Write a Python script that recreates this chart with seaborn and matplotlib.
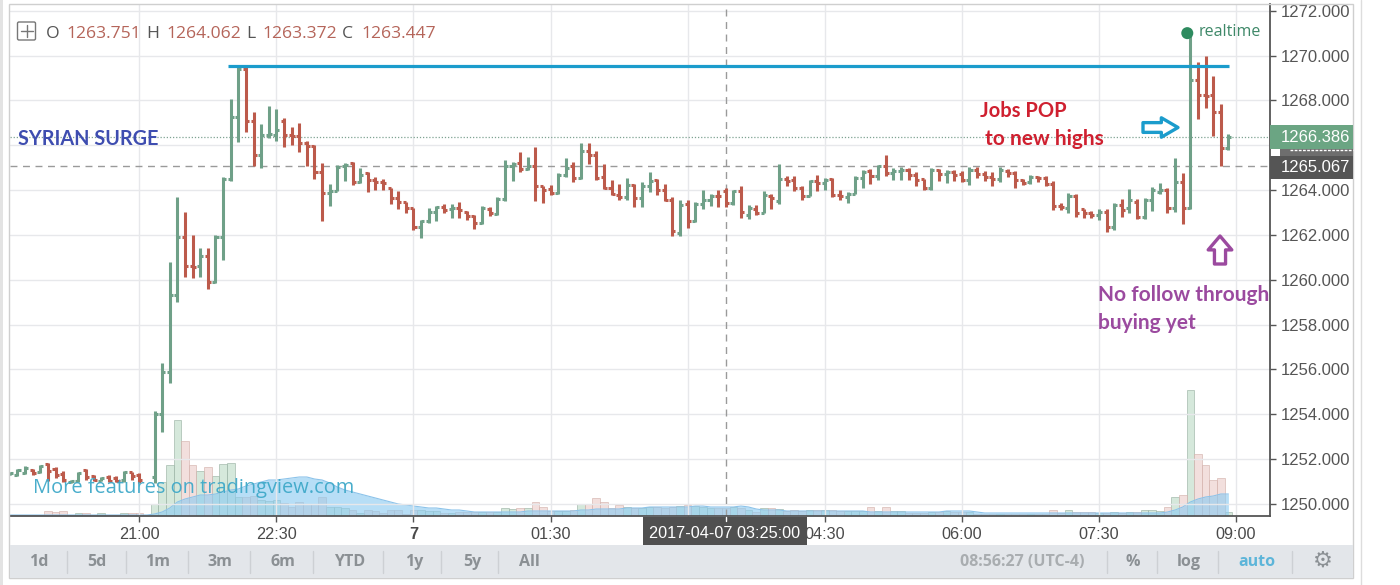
import numpy as np
import pandas as pd
import matplotlib
matplotlib.use("Agg")
import matplotlib.pyplot as plt
from matplotlib.patches import Rectangle, FancyBboxPatch
import seaborn as sns

nan = np.nan

# 5 minute bars, minutes counted from 21:00
minutes = [5 * k for k in range(-17, 144)]

open_px = [
    1251.32, 1251.30, 1251.38, 1251.53, 1251.42, 1251.78, 1251.55, 1251.35, 1250.97, 1251.02,
    1251.50, 1251.25, 1251.03, 1251.20, 1251.15, 1251.05, 1251.40, 1251.30, nan, 1251.2,
    1254.0, 1255.9, 1259.3, 1261.9, 1260.6, 1260.6, 1261.05, 1259.9, 1261.9, 1264.5,
    1267.27, 1269.4, 1267.1, 1265.56, 1266.45, 1266.45, 1267.1, 1266.45, 1266.4, 1266.08,
    1265.97, 1264.8, 1263.88, 1263.97, 1265.07, 1265.2, 1264.37, 1264.74, 1264.44, 1264.37,
    1264.07, 1263.63, 1263.45, 1263.18, 1262.33, 1262.6, 1263.0, 1263.25, 1263.14, 1263.18,
    1263.0, 1262.83, 1262.53, 1263.15, 1262.95, 1263.61, 1265.05, 1265.2, 1264.93, 1265.08,
    1264.16, 1264.04, 1263.87, 1264.68, 1265.05, 1264.53, 1265.72, 1265.57, 1264.58, 1264.09,
    1263.8, 1263.67, 1264.24, 1263.64, 1264.16, 1264.43, 1264.01, 1263.57, 1262.09, 1263.38,
    1262.6, 1263.38, 1263.57, 1263.75, 1263.94, 1263.42, 1263.97, 1262.9, 1263.15, 1262.98,
    1263.75, 1263.5, 1264.49, 1264.46, 1264.09, 1263.75, 1264.42, 1264.31, 1264.49, 1263.79,
    1263.69, 1263.84, 1264.53, 1264.83, 1264.61, 1265.05, 1264.76, 1264.83, 1264.9, 1264.68,
    1264.49, 1264.09, 1264.9, 1264.71, 1264.79, 1264.71, 1264.46, 1264.88, 1264.71, 1264.6,
    1264.49, 1264.86, 1264.76, 1264.46, 1264.34, 1264.58, 1264.53, 1264.28, 1263.27, 1263.2,
    1263.72, 1263.14, 1262.96, 1262.88, 1263.03, 1262.36, 1263.33, 1263.2, 1263.48, 1262.81,
    1263.55, 1263.9, 1264.0, 1263.22, 1264.34, 1263.22, 1268.9, 1268.23, 1268.23, 1267.49,
    1265.88]

high_px = [
    1251.40, 1251.56, 1251.67, 1251.57, 1251.75, 1251.82, 1251.63, 1251.48, 1251.05, 1251.42,
    1251.56, 1251.30, 1251.20, 1251.27, 1251.23, 1251.48, 1251.44, 1251.38, nan, 1254.16,
    1256.3, 1260.8, 1263.7, 1263.0, 1262.0, 1261.4, 1261.4, 1262.0, 1264.6, 1268.07,
    1269.5, 1269.5, 1267.46, 1266.94, 1267.74, 1267.6, 1267.2, 1266.8, 1267.0, 1266.18,
    1266.0, 1265.2, 1264.25, 1265.1, 1265.2, 1265.26, 1265.0, 1264.8, 1264.56, 1264.5,
    1264.1, 1263.97, 1263.48, 1263.18, 1262.66, 1263.18, 1263.3, 1263.37, 1263.37, 1263.47,
    1263.08, 1262.9, 1263.27, 1263.23, 1263.69, 1265.35, 1265.23, 1265.69, 1265.47, 1265.94,
    1264.2, 1264.24, 1264.76, 1265.42, 1265.23, 1266.09, 1266.09, 1265.75, 1265.16, 1264.46,
    1264.28, 1264.53, 1264.28, 1264.34, 1264.8, 1264.49, 1264.28, 1263.67, 1263.54, 1263.57,
    1263.47, 1264.01, 1263.82, 1264.0, 1264.09, 1264.01, 1264.2, 1263.32, 1263.35, 1263.94,
    1263.84, 1265.16, 1264.61, 1264.61, 1264.2, 1264.46, 1264.68, 1264.53, 1264.53, 1263.99,
    1263.9, 1264.61, 1264.88, 1264.95, 1265.13, 1265.57, 1264.98, 1265.01, 1264.98, 1264.79,
    1264.49, 1264.98, 1264.93, 1264.88, 1264.88, 1264.86, 1265.01, 1265.01, 1264.83, 1264.79,
    1265.01, 1264.93, 1264.83, 1264.49, 1264.68, 1264.64, 1264.64, 1264.42, 1263.42, 1263.87,
    1263.84, 1263.14, 1263.08, 1263.14, 1263.14, 1263.4, 1263.58, 1264.04, 1263.58, 1263.66,
    1264.12, 1264.32, 1264.07, 1265.41, 1264.74, 1271.0, 1269.69, 1269.99, 1269.08, 1267.86,
    1266.52]

low_px = [
    1251.30, 1251.26, 1251.33, 1251.30, 1251.38, 1251.00, 1251.16, 1250.96, 1250.95, 1250.96,
    1251.05, 1251.00, 1251.00, 1250.96, 1250.96, 1250.98, 1251.05, 1250.93, nan, 1250.93,
    1253.2, 1255.4, 1259.0, 1260.1, 1260.06, 1260.1, 1259.6, 1259.87, 1260.9, 1264.4,
    1266.15, 1266.6, 1265.07, 1265.0, 1266.3, 1266.2, 1265.9, 1266.03, 1265.68, 1265.08,
    1264.49, 1262.6, 1263.28, 1263.95, 1264.4, 1264.22, 1264.3, 1263.9, 1264.0, 1264.0,
    1263.36, 1263.15, 1262.96, 1262.2, 1261.87, 1262.54, 1262.6, 1262.96, 1262.73, 1262.75,
    1262.68, 1262.28, 1262.49, 1262.83, 1262.87, 1263.5, 1264.42, 1264.79, 1264.9, 1263.5,
    1263.42, 1263.76, 1263.84, 1264.58, 1264.36, 1264.49, 1265.16, 1264.43, 1264.04, 1263.76,
    1263.57, 1263.57, 1263.23, 1263.23, 1263.9, 1263.76, 1263.5, 1261.97, 1261.97, 1262.31,
    1262.56, 1263.17, 1263.3, 1263.23, 1263.24, 1263.35, 1262.75, 1262.71, 1262.9, 1262.98,
    1263.17, 1263.38, 1264.16, 1263.94, 1263.57, 1263.72, 1263.97, 1263.99, 1263.69, 1263.57,
    1263.42, 1263.84, 1264.09, 1264.28, 1264.43, 1264.64, 1264.43, 1264.43, 1264.43, 1264.16,
    1264.01, 1264.01, 1264.42, 1264.31, 1264.42, 1264.34, 1264.24, 1264.53, 1264.39, 1264.16,
    1264.36, 1264.56, 1264.09, 1264.24, 1264.28, 1264.34, 1264.19, 1263.09, 1263.09, 1262.98,
    1262.8, 1262.76, 1262.73, 1262.66, 1262.14, 1262.2, 1262.81, 1262.96, 1262.69, 1262.69,
    1263.06, 1263.82, 1262.96, 1263.03, 1262.48, 1263.14, 1267.15, 1267.68, 1266.4, 1265.07,
    1265.78]

close_px = [
    1251.38, 1251.50, 1251.60, 1251.37, 1251.68, 1251.45, 1251.30, 1251.05, 1251.03, 1251.36,
    1251.20, 1251.08, 1251.15, 1251.02, 1251.03, 1251.40, 1251.25, 1251.05, nan, 1254.0,
    1255.9, 1259.3, 1261.9, 1260.6, 1260.58, 1261.05, 1259.9, 1261.9, 1264.5, 1267.27,
    1269.4, 1267.1, 1265.56, 1266.45, 1266.5, 1266.67, 1266.45, 1266.4, 1266.08, 1265.97,
    1264.8, 1263.88, 1263.97, 1265.04, 1265.1, 1264.37, 1264.67, 1264.44, 1264.37, 1264.32,
    1263.63, 1263.48, 1263.18, 1262.33, 1262.6, 1263.0, 1263.25, 1263.1, 1263.18, 1263.1,
    1262.83, 1262.53, 1263.2, 1262.98, 1263.61, 1265.05, 1265.16, 1264.93, 1265.05, 1264.16,
    1264.0, 1263.87, 1264.68, 1264.98, 1264.53, 1265.72, 1265.57, 1264.53, 1264.09, 1263.84,
    1263.67, 1264.24, 1263.64, 1264.16, 1264.39, 1264.01, 1263.57, 1262.16, 1263.35, 1262.6,
    1263.38, 1263.57, 1263.72, 1263.72, 1263.42, 1263.94, 1263.0, 1263.2, 1262.98, 1263.79,
    1263.64, 1264.49, 1264.39, 1264.09, 1263.75, 1264.39, 1264.31, 1264.45, 1263.79, 1263.75,
    1263.84, 1264.53, 1264.8, 1264.61, 1265.05, 1264.76, 1264.83, 1264.9, 1264.68, 1264.46,
    1264.09, 1264.9, 1264.71, 1264.79, 1264.68, 1264.46, 1264.9, 1264.71, 1264.56, 1264.49,
    1264.9, 1264.76, 1264.46, 1264.31, 1264.58, 1264.53, 1264.28, 1263.27, 1263.24, 1263.75,
    1262.98, 1262.96, 1262.88, 1263.03, 1262.36, 1263.33, 1263.1, 1263.55, 1262.81, 1263.55,
    1264.0, 1264.0, 1263.22, 1264.34, 1263.22, 1268.9, 1268.23, 1268.2, 1267.49, 1265.88,
    1266.37]

volume = [
    1, 1, 1, 1, 1, 5, 4, 5, 1, 3,
    3, 1, 3, 1, 1, 3, 3, 3, 0, 12,
    34, 51, 96, 75, 51, 45, 49, 40, 52, 53,
    19, 19, 20, 16, 15, 16, 13, 9, 14, 12,
    12, 19, 9, 9, 8, 6, 3, 6, 5, 3,
    6, 6, 2, 6, 6, 5, 5, 3, 3, 4,
    4, 4, 4, 4, 4, 8, 7, 8, 8, 14,
    9, 5, 5, 5, 6, 12, 12, 18, 14, 8,
    11, 9, 8, 8, 9, 9, 8, 9, 10, 11,
    10, 9, 8, 8, 8, 9, 8, 6, 4, 8,
    8, 7, 5, 6, 5, 6, 6, 6, 6, 5,
    5, 5, 5, 9, 5, 9, 5, 5, 3, 3,
    3, 4, 4, 5, 4, 4, 4, 2, 2, 2,
    2, 2, 2, 2, 2, 2, 2, 6, 3, 6,
    4, 4, 4, 3, 3, 4, 3, 4, 4, 6,
    6, 5, 9, 19, 21, 126, 62, 51, 36, 38,
    4]

volume_ma = [
    1, 1, 1, 1, 1, 1, 1, 1, 1, 1,
    1, 1, 1, 1, 1, 1, 1, 1, 1, 2,
    4, 8, 14, 17, 19, 21, 21, 22, 24, 26,
    27, 30, 32, 34, 36, 36, 37, 38, 39, 39,
    37, 36, 33, 29, 26, 24, 22, 20, 18, 16,
    14, 12, 11, 10, 9, 8, 8, 7, 6, 6,
    5, 4, 4, 4, 4, 4, 4, 4, 5, 5,
    5, 5, 5, 5, 5, 6, 6, 7, 7, 7,
    7, 8, 8, 8, 9, 9, 9, 9, 9, 9,
    10, 10, 9, 9, 9, 9, 10, 9, 7, 6,
    6, 6, 5, 5, 5, 5, 5, 5, 5, 5,
    5, 5, 5, 4, 4, 4, 4, 4, 4, 4,
    4, 4, 4, 5, 5, 5, 5, 4, 3, 3,
    3, 3, 3, 3, 3, 3, 3, 3, 3, 3,
    3, 3, 3, 3, 3, 3, 3, 3, 3, 3,
    3, 3, 4, 6, 9, 14, 17, 19, 20, 22,
    22]

price_ticks = list(range(1250, 1273, 2))
time_ticks = [0, 90, 180, 270, 360, 450, 540, 630, 720]
# 1266 and 03:00 sit under the flags in the widget
price_labels = ["" if v == 1266 else f"{v:.3f}" for v in price_ticks]
time_labels = ["21:00", "22:30", "7", "01:30", "", "04:30", "06:00", "07:30", "09:00"]
range_labels = ["1d", "5d", "1m", "3m", "6m", "YTD", "1y", "5y", "All"]

last_price = 1266.386
cross_price = 1265.067
cross_minute = 385
resistance = 1269.55

RED = "#BC5A4B"
GREEN = "#6FA088"
BLUE = "#1B9CCC"
PURPLE = "#9B4A9F"

sns.set_theme(style="white")
plt.rcParams["font.family"] = ["Liberation Sans", "DejaVu Sans"]

# long table: wick, open tick and close tick of each bar
rows = []
for m, o, h, l, c in zip(minutes, open_px, high_px, low_px, close_px):
    if np.isnan(o):
        continue
    d = "up" if c >= o else "down"
    rows += [(m, l, d, f"w{m}"), (m, h, d, f"w{m}")]
    rows += [(m - 2.0, o, d, f"o{m}"), (m, o, d, f"o{m}")]
    rows += [(m, c, d, f"c{m}"), (m + 2.0, c, d, f"c{m}")]
bars = pd.DataFrame(rows, columns=["minute", "price", "dir", "unit"])

vol = pd.DataFrame({"minute": minutes, "volume": volume, "ma": volume_ma})
vol["dir"] = ["up" if (c >= o or np.isnan(o)) else "down" for o, c in zip(open_px, close_px)]

fig = plt.figure(figsize=(14, 5.85), dpi=100, facecolor="white")
ax = fig.add_axes([10 / 1400, 69 / 585, 1260 / 1400, 512 / 585])
vx = ax.twinx()
ax.set_zorder(vx.get_zorder() + 1)
ax.patch.set_visible(False)

# volume pane, height in its own units
sns.barplot(data=vol, x="minute", y="volume", hue="dir", hue_order=["up", "down"],
            palette={"up": "#BFDDC8", "down": "#EBCFCB"}, native_scale=True, dodge=False,
            width=1, saturation=1, alpha=0.65, edgecolor="#9DB5A6", linewidth=0.7,
            legend=False, ax=vx)
for p in vx.patches:
    if p.get_facecolor()[0] > 0.85:
        p.set_edgecolor("#D5B3AE")
vx.fill_between(vol["minute"], 0, vol["ma"], color="#8CCBF2", alpha=0.62, lw=0)
sns.lineplot(data=vol, x="minute", y="ma", color="#8CC3EA", lw=0.8, ax=vx, legend=False)
vx.set_ylim(0, 512)
vx.set_yticks([])
vx.set_ylabel("")
vx.grid(False)
for s in vx.spines.values():
    s.set_visible(False)

# price bars
sns.lineplot(data=bars, x="minute", y="price", hue="dir", units="unit", estimator=None,
             sort=False, palette={"up": GREEN, "down": RED}, lw=2.2, legend=False,
             solid_capstyle="butt", ax=ax)

ax.axhline(last_price, color="#7FA392", lw=0.9, ls=(0, (1, 1.5)), zorder=1)
ax.axhline(cross_price, color="#9A9A9A", lw=1.0, ls=(0, (5, 4)), zorder=1)
ax.axvline(cross_minute, color="#9A9A9A", lw=1.0, ls=(0, (5, 4)), zorder=1)
ax.plot([58, 715.5], [resistance, resistance], color=BLUE, lw=2.3, solid_capstyle="butt", zorder=5)
sns.scatterplot(x=[688], y=[1271.0], color="#2E8B5F", s=75, edgecolor="none", ax=ax, zorder=6,
                legend=False)

ax.set_xlim(-84.9, 742.3)
vx.set_xlim(-84.9, 742.3)
ax.set_ylim(1249.456, 1272.3)
ax.set_xlabel("")
ax.set_ylabel("")

ax.yaxis.tick_right()
ax.set_yticks(price_ticks, price_labels)
ax.set_xticks(time_ticks, time_labels)
ax.tick_params(axis="y", length=4, width=1, color="#555555", labelcolor="#555555",
               labelsize=12, pad=4, right=True)
ax.tick_params(axis="x", length=4, width=1, color="#555555", labelcolor="#4A4A4A",
               labelsize=11.7, pad=4, bottom=True)
ax.get_xticklabels()[2].set_fontweight("bold")
ax.grid(True, color="#E7E8EB", lw=1.0)
ax.set_axisbelow(True)
for name, s in ax.spines.items():
    s.set_visible(name in ("bottom", "right"))
    s.set_color("#555555")
    s.set_linewidth(1.3)

# overlay in pixel coordinates for the widget frame, toolbar and notes
fx = fig.add_axes([0, 0, 1, 1], zorder=20)
fx.set_xlim(0, 1400)
fx.set_ylim(585, 0)
fx.axis("off")
fx.patch.set_visible(False)

fx.add_patch(Rectangle((0, 0), 2.5, 585, color="#E3E3E3", lw=0))
fx.add_patch(Rectangle((9, 4), 1344, 574, fc="none", ec="#CFCFCF", lw=1))
fx.plot([1361, 1361], [0, 585], color="#DDDDDD", lw=1)

# toolbar
fx.add_patch(Rectangle((9.5, 545), 1343, 33, color="#E3E6EA", lw=0))
tool_font = dict(family="Open Sans", fontweight="bold", fontsize=11.5, ha="center", va="center")
for label, x in zip(range_labels, [39, 97, 158, 220, 283, 350, 414, 472, 529]):
    fx.text(x, 561.5, label, color="#8B9094", **tool_font)
for x in [67, 126, 188, 250, 313, 383, 441, 498, 1107, 1157, 1218, 1292]:
    fx.plot([x, x], [551, 573], color="#CDD0D4", lw=1)
fx.text(1022, 561.5, "08:56:27 (UTC-4)", color="#A9ADB0", **tool_font)
fx.text(1133, 561.5, "%", color="#8B9094", **tool_font)
fx.text(1189, 561.5, "log", color="#8B9094", **tool_font)
fx.text(1257, 561.5, "auto", color="#5DB5D9", **tool_font)
fx.text(1323, 561, "\u2699", color="#8B9094", family="DejaVu Sans", fontsize=16, ha="center", va="center")

# price and time flags
fx.add_patch(Rectangle((1270, 125.3), 83, 24, color="#6BA583", lw=0))
fx.text(1281, 138, f"{last_price:.3f}", color="white", fontsize=12, va="center")
fx.add_patch(Rectangle((1280, 149.3), 73, 6.4, color="#6E6E6E", lw=0))
fx.plot([1290, 1353], [150.3, 150.3], color="white", lw=1, ls=(0, (2, 1)))
fx.add_patch(Rectangle((1270, 155.7), 83, 23.3, color="#555555", lw=0))
fx.text(1281, 168, f"{cross_price:.3f}", color="white", fontsize=12, va="center")
fx.add_patch(Rectangle((643, 516.7), 164, 28.3, color="#505050", lw=0))
fx.text(725, 533, "2017-04-07 03:25:00", color="white", fontsize=11.7, ha="center", va="center")
fx.plot([726, 726], [517, 521], color="white", lw=1)

# legend line of the widget
fx.add_patch(FancyBboxPatch((17.5, 22), 18, 18, boxstyle="round,pad=0,rounding_size=1.5",
                            fc="none", ec="#777777", lw=1))
fx.plot([26.5, 26.5], [25, 37], color="#777777", lw=1)
fx.plot([20.5, 32.5], [31, 31], color="#777777", lw=1)
ohlc_font = dict(family="Open Sans", fontsize=12.6, va="center")
for x, s in zip([46, 146, 246, 342], ["O", "H", "L", "C"]):
    fx.text(x, 33.5, s, color="#555555", **ohlc_font)
for x, s in zip([66, 166, 262, 361], ["1263.751", "1264.062", "1263.372", "1263.447"]):
    fx.text(x, 33.5, s, color="#B5655A", **ohlc_font)

# hand written notes
note = dict(family="Lato", fontweight="bold", fontsize=15, va="center")
fx.text(18, 139, "SYRIAN SURGE", color="#3E4DB0", **{**note, "fontsize": 14.3})
fx.text(980, 111, "Jobs POP", color="#CF2030", **{**note, "fontsize": 14.5})
fx.text(985, 139, "to new highs", color="#CF2030", **note)
fx.text(1098, 295, "No follow through", color=PURPLE, **note)
fx.text(1098, 323, "buying yet", color=PURPLE, **note)
fx.text(1199, 32, "realtime", color="#3E8868", family="Open Sans", fontsize=11.5, va="center")
fx.text(33, 488, "More features on tradingview.com", color="#3FA9C9", family="Open Sans",
        fontsize=14.4, va="center", alpha=0.95)

fx.annotate("", xy=(1178, 127.5), xytext=(1143, 127.5),
            arrowprops=dict(width=7, headwidth=14, headlength=12, fc="white", ec=BLUE, lw=2.4,
                            shrinkA=0, shrinkB=0))
fx.annotate("", xy=(1220, 236), xytext=(1220, 264),
            arrowprops=dict(width=8, headwidth=17, headlength=10, fc="white", ec=PURPLE, lw=2.4,
                            shrinkA=0, shrinkB=0))

fig.savefig("out.png", dpi=100)
